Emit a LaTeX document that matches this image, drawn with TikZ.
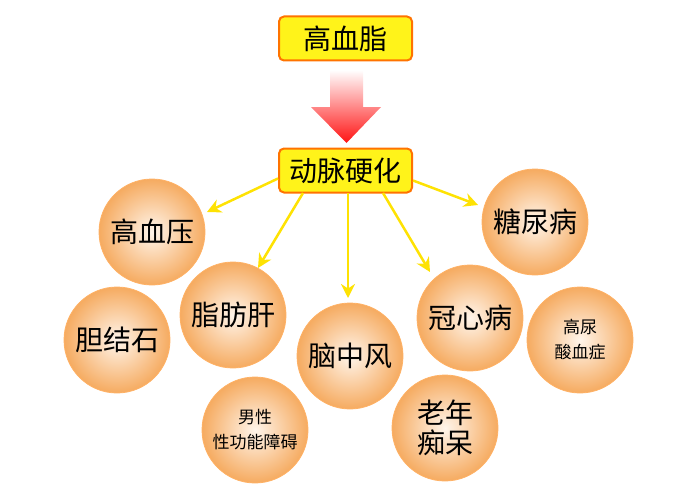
\documentclass[tikz,border=0pt]{standalone}
\usepackage{fontspec}
\newfontfamily\cjk{Noto Sans CJK SC}
\usetikzlibrary{arrows.meta,shadings}
\begin{document}
\begin{tikzpicture}[x=1pt,y=-1pt,
  box/.style={draw=orange!90!red,line width=2pt,fill=yellow!90!white,rounded corners=5pt,minimum width=133pt,minimum height=44pt,font=\cjk\fontsize{28}{30}\selectfont,inner sep=0pt},
  ball/.style={circle,draw=orange!60,line width=0.8pt,inner color=orange!8!white,outer color=orange!60!white!85!brown,minimum size=106pt,inner sep=0pt,align=center,font=\cjk\fontsize{28}{31}\selectfont},
  sball/.style={ball,font=\cjk\fontsize{17}{25}\selectfont},
  yarr/.style={draw=yellow!85!orange,line width=2.5pt,-{Stealth[length=14pt,width=14pt]}}]
\useasboundingbox (0,0) rectangle (700,500);
\node[box] (top) at (345.5,38.5) {高血脂};
\node[box] (mid) at (345.5,170.5) {动脉硬化};
\shade[top color=white,bottom color=red!90!pink,shading angle=0]
  (330,70) -- (363,70) -- (363,107) -- (381,107) -- (346.5,143) -- (311,107) -- (330,107) -- cycle;
\node[ball] (gxy) at (152,232) {高血压};
\node[ball] (tnb) at (535,222) {糖尿病};
\node[ball] (zfg) at (233,315) {脂肪肝};
\node[ball] (djs) at (117,340) {胆结石};
\node[ball] (nzf) at (350,356) {脑中风};
\node[ball] (gxb) at (470,318) {冠心病};
\node[sball] (gns) at (580,340) {高尿\\酸血症};
\node[sball] (nx) at (255,430) {男性\\性功能障碍};
\node[ball,font=\cjk\fontsize{28}{30}\selectfont] (lnc) at (445,428) {老年\\痴呆};
\draw[yarr] (mid.west) ++(0,8) -- (207,212);
\draw[yarr] (303,193) -- (258,268);
\draw[yarr] (348,193) -- (348,298);
\draw[yarr] (383,193) -- (430,272);
\draw[yarr] (mid.east) ++(0,10) -- (478,205);
\end{tikzpicture}
\end{document}
